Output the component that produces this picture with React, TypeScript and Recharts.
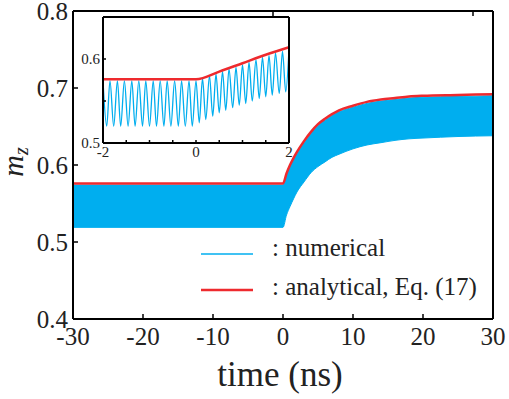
import React from "react";
import {
  Area,
  CartesianGrid,
  ComposedChart,
  Legend,
  Line,
  LineChart,
  XAxis,
  YAxis,
} from "recharts";

const FONT = "'Times New Roman', 'Liberation Serif', 'DejaVu Serif', serif";
const BLUE = "#00AEEF";
const RED = "#EE2A2E";

// main plot: oscillation envelope of the numerical result + analytical curve
const mainTime = [-30, -20, -10, 0, 0.5, 1, 1.5, 2, 3, 4, 5, 6, 7, 8, 10, 12, 14, 16, 18, 20, 25, 30];
const mainLower = [0.519, 0.519, 0.519, 0.519, 0.535, 0.546, 0.556, 0.565, 0.578, 0.59, 0.598, 0.604, 0.61, 0.614, 0.621, 0.626, 0.629, 0.632, 0.634, 0.635, 0.637, 0.638];
const mainUpper = [0.574, 0.574, 0.574, 0.574, 0.587, 0.598, 0.607, 0.615, 0.629, 0.641, 0.651, 0.658, 0.664, 0.669, 0.675, 0.68, 0.683, 0.685, 0.687, 0.688, 0.689, 0.69];
const mainRed = [0.576, 0.576, 0.576, 0.576, 0.589, 0.6, 0.609, 0.617, 0.631, 0.643, 0.653, 0.66, 0.666, 0.671, 0.677, 0.682, 0.685, 0.687, 0.689, 0.69, 0.691, 0.692];

const mainXTicks = [-30, -20, -10, 0, 10, 20, 30];
const mainYTicks = [0.4, 0.5, 0.6, 0.7, 0.8];

// inset: peaks and troughs of the numerical curve between -2 and 2 ns
const insetTime = [
  -2.0, -1.92, -1.85, -1.77, -1.69, -1.62, -1.54, -1.46, -1.38, -1.31, -1.23, -1.15, -1.08, -1.0,
  -0.92, -0.85, -0.77, -0.69, -0.62, -0.54, -0.46, -0.38, -0.31, -0.23, -0.15, -0.08, 0.0,
  0.07, 0.14, 0.21, 0.29, 0.36, 0.43, 0.5, 0.57, 0.64, 0.71, 0.79, 0.86, 0.93, 1.0,
  1.07, 1.14, 1.21, 1.29, 1.36, 1.43, 1.5, 1.57, 1.64, 1.71, 1.79, 1.86, 1.93, 2.0,
];
const insetNumerical = [
  0.574, 0.52, 0.574, 0.52, 0.574, 0.52, 0.574, 0.52, 0.574, 0.52, 0.574, 0.52, 0.574, 0.52,
  0.574, 0.52, 0.574, 0.52, 0.574, 0.52, 0.574, 0.52, 0.574, 0.52, 0.574, 0.52, 0.574,
  0.524, 0.577, 0.528, 0.58, 0.532, 0.582, 0.536, 0.585, 0.539, 0.588, 0.542, 0.59, 0.545, 0.593,
  0.547, 0.596, 0.55, 0.599, 0.553, 0.602, 0.555, 0.604, 0.557, 0.607, 0.559, 0.609, 0.561, 0.612,
];
const insetRedTime = [-2, 0, 0.5, 1, 1.5, 2];
const insetRed = [0.576, 0.576, 0.585, 0.595, 0.605, 0.614];

const insetXTicks = [-2, -1.5, -1, -0.5, 0, 0.5, 1, 1.5, 2];
const insetYTicks = [0.5, 0.55, 0.6, 0.65];

const mainData = mainTime.map((t, i) => ({
  t,
  band: [mainLower[i], mainUpper[i]],
  red: mainRed[i],
}));
const insetData = insetTime.map((t, i) => ({ t, num: insetNumerical[i] }));
const insetRedData = insetRedTime.map((t, i) => ({ t, red: insetRed[i] }));

const axisLine = { stroke: "#000", strokeWidth: 2 };
const tickLine = { stroke: "#000", strokeWidth: 1.5 };
const blank = () => "";

const MzLabel = () => (
  <text
    transform="translate(23,162) rotate(-90)"
    textAnchor="middle"
    style={{ fontFamily: FONT, fontStyle: "italic", fontSize: 30 }}
    fill="#222"
  >
    m
    <tspan style={{ fontSize: 20 }} dy={5}>
      z
    </tspan>
  </text>
);

const renderLegend = () => (
  <svg width={300} height={70} style={{ fontFamily: FONT, fontSize: 25 }}>
    <line x1={6} y1={19} x2={58} y2={19} stroke={BLUE} strokeWidth={1.5} />
    <text x={77} y={21} fill="#222" style={{ fontFamily: FONT }}>
      : numerical
    </text>
    <line x1={6} y1={55} x2={58} y2={55} stroke={RED} strokeWidth={2.5} />
    <text x={77} y={60} fill="#222" style={{ fontFamily: FONT }}>
      : analytical, Eq. (17)
    </text>
  </svg>
);

const Inset = () => (
  <LineChart
    width={230}
    height={150}
    margin={{ top: 6, right: 10, bottom: 0, left: 0 }}
    style={{ position: "absolute", left: 70, top: 10 }}
  >
    <CartesianGrid horizontal={false} vertical={false} fill="#fff" />
    <XAxis
      xAxisId="b"
      dataKey="t"
      type="number"
      domain={[-2, 2]}
      ticks={insetXTicks}
      interval={0}
      height={17}
      tickSize={-3}
      tickMargin={6}
      tickFormatter={(v: number) => (v === -2 || v === 0 || v === 2 ? String(v) : "")}
      tick={{ style: { fontFamily: FONT }, fontSize: 15, fill: "#222" }}
      axisLine={axisLine}
      tickLine={tickLine}
    />
    <XAxis
      xAxisId="t"
      orientation="top"
      type="number"
      domain={[-2, 2]}
      ticks={insetXTicks}
      interval={0}
      height={1}
      tickSize={-3}
      tickFormatter={blank}
      axisLine={axisLine}
      tickLine={tickLine}
    />
    <YAxis
      yAxisId="l"
      type="number"
      domain={[0.5, 0.65]}
      ticks={insetYTicks}
      interval={0}
      width={33}
      tickSize={-3}
      tickMargin={6}
      tickFormatter={(v: number) => (v === 0.5 || v === 0.6 ? v.toFixed(1) : "")}
      tick={{ style: { fontFamily: FONT }, fontSize: 15, fill: "#222" }}
      axisLine={axisLine}
      tickLine={tickLine}
    />
    <YAxis
      yAxisId="r"
      orientation="right"
      type="number"
      domain={[0.5, 0.65]}
      ticks={insetYTicks}
      interval={0}
      width={1}
      tickSize={-3}
      tickFormatter={blank}
      axisLine={axisLine}
      tickLine={tickLine}
    />
    <Line
      xAxisId="b"
      yAxisId="l"
      data={insetData}
      dataKey="num"
      type="monotoneX"
      stroke={BLUE}
      strokeWidth={1.3}
      dot={false}
      isAnimationActive={false}
    />
    <Line
      xAxisId="b"
      yAxisId="l"
      data={insetRedData}
      dataKey="red"
      type="monotone"
      stroke={RED}
      strokeWidth={2.5}
      dot={false}
      isAnimationActive={false}
    />
  </LineChart>
);

export default function App() {
  return (
    <div style={{ position: "absolute", left: 0, top: 0, width: 509, height: 399, background: "#fff", fontFamily: FONT }}>
      <ComposedChart
        width={509}
        height={399}
        data={mainData}
        margin={{ top: 10, right: 15, bottom: 0, left: 0 }}
      >
        <XAxis
          xAxisId="b"
          dataKey="t"
          type="number"
          domain={[-30, 30]}
          ticks={mainXTicks}
          interval={0}
          height={80}
          tickSize={-5}
          tickMargin={13}
          tick={{ style: { fontFamily: FONT }, fontSize: 25, fill: "#222" }}
          axisLine={axisLine}
          tickLine={tickLine}
          label={{
            value: "time (ns)",
            position: "insideBottom",
            offset: 13,
            dx: -3,
            fontSize: 35,
            fill: "#222",
            style: { fontFamily: FONT },
          }}
        />
        <XAxis
          xAxisId="t"
          orientation="top"
          type="number"
          domain={[-30, 30]}
          ticks={mainXTicks}
          interval={0}
          height={1}
          tickSize={-5}
          tickFormatter={blank}
          axisLine={axisLine}
          tickLine={tickLine}
        />
        <YAxis
          yAxisId="l"
          type="number"
          domain={[0.4, 0.8]}
          ticks={mainYTicks}
          interval={0}
          width={73}
          tickSize={-5}
          tickMargin={10}
          tickFormatter={(v: number) => v.toFixed(1)}
          tick={{ style: { fontFamily: FONT }, fontSize: 25, fill: "#222" }}
          axisLine={axisLine}
          tickLine={tickLine}
          label={<MzLabel />}
        />
        <YAxis
          yAxisId="r"
          orientation="right"
          type="number"
          domain={[0.4, 0.8]}
          ticks={mainYTicks}
          interval={0}
          width={1}
          tickSize={-5}
          tickFormatter={blank}
          axisLine={axisLine}
          tickLine={tickLine}
        />
        <Area
          xAxisId="b"
          yAxisId="l"
          dataKey="band"
          type="monotoneX"
          stroke={BLUE}
          strokeWidth={1}
          fill={BLUE}
          fillOpacity={1}
          isAnimationActive={false}
        />
        <Line
          xAxisId="b"
          yAxisId="l"
          dataKey="red"
          type="monotoneX"
          stroke={RED}
          strokeWidth={2.5}
          dot={false}
          isAnimationActive={false}
        />
        <Legend
          layout="horizontal"
          verticalAlign="middle"
          align="center"
          content={renderLegend}
          wrapperStyle={{ left: 195, top: 235, width: 300, height: 70 }}
        />
      </ComposedChart>
      <Inset />
    </div>
  );
}
